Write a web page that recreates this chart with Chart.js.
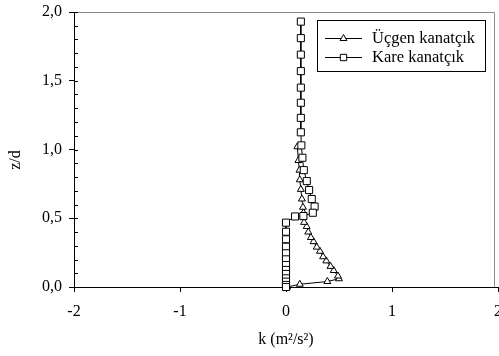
<!DOCTYPE html>
<html>
<head>
<meta charset="utf-8">
<script src="https://cdn.jsdelivr.net/npm/chart.js@4"></script>
<style>
  html, body { margin: 0; padding: 0; background: #fff; }
</style>
</head>
<body>
<canvas id="kChart" width="499" height="356"></canvas>
<script>
// turbulent kinetic energy profiles, z/d against k
const seriesNames = ["Üçgen kanatçık", "Kare kanatçık"];

const ucgenK = [0.01, 0.13, 0.39, 0.50, 0.49, 0.45, 0.42, 0.38, 0.35, 0.32, 0.29, 0.26, 0.235,
                0.21, 0.195, 0.17, 0.165, 0.165, 0.16, 0.15, 0.14, 0.13, 0.127, 0.117, 0.107];
const ucgenZ = [0.00, 0.02, 0.04, 0.06, 0.08, 0.12, 0.15, 0.19, 0.22, 0.26, 0.29, 0.33, 0.36,
                0.40, 0.44, 0.47, 0.51, 0.54, 0.58, 0.64, 0.71, 0.78, 0.85, 0.92, 1.02];

const kareK = [0.14, 0.14, 0.14, 0.14, 0.14, 0.14, 0.14, 0.14, 0.145, 0.155, 0.168, 0.196, 0.218,
               0.243, 0.27, 0.253, 0.164, 0.085, 0.0, 0.0, 0.0, 0.0, 0.0, 0.0, 0.0, 0.0, 0.0,
               0.0, 0.0, 0.0, 0.0];
const kareZ = [1.93, 1.81, 1.69, 1.57, 1.45, 1.34, 1.23, 1.125, 1.03, 0.94, 0.85, 0.77, 0.705,
               0.64, 0.585, 0.54, 0.516, 0.513, 0.468, 0.402, 0.347, 0.293, 0.245, 0.201, 0.16,
               0.124, 0.095, 0.063, 0.039, 0.015, 0.0];

const xTicks = [-2, -1, 0, 1, 2];
const yTicks = [0, 0.5, 1, 1.5, 2];
const yMinorStep = 0.1;

const serif = "'Liberation Serif', 'Times New Roman', serif";

function toPoints(xs, ys) {
    return xs.map(function (x, i) { return { x: x, y: ys[i] }; });
}

// frame, minor ticks, y title and the boxed legend
const extras = {
    id: "extras",
    afterDraw: function (chart) {
        const ctx = chart.ctx;
        const area = chart.chartArea;
        const ys = chart.scales.y;

        ctx.save();
        ctx.strokeStyle = "#8c8c8c";
        ctx.lineWidth = 1;
        ctx.beginPath();
        ctx.moveTo(area.left, 12.5);
        ctx.lineTo(494.5, 12.5);
        ctx.lineTo(494.5, area.bottom);
        ctx.stroke();

        ctx.strokeStyle = "#000";
        ctx.beginPath();
        for (let v = 0; v <= 2.0001; v += yMinorStep) {
            const py = Math.round(ys.getPixelForValue(v)) + 0.5;
            ctx.moveTo(area.left, py);
            ctx.lineTo(area.left + 4, py);
        }
        ctx.stroke();

        ctx.fillStyle = "#000";
        ctx.font = "16px " + serif;
        ctx.textAlign = "center";
        ctx.textBaseline = "middle";
        ctx.translate(16, 160);
        ctx.rotate(-Math.PI / 2);
        ctx.fillText("z/d", 0, 0);
        ctx.restore();

        ctx.save();
        ctx.strokeStyle = "#000";
        ctx.lineWidth = 1;
        ctx.fillStyle = "#fff";
        ctx.fillRect(317.5, 20.5, 168, 51);
        ctx.strokeRect(317.5, 20.5, 168, 51);
        const rows = [38, 57];
        const styles = ["triangle", "rect"];
        const radii = [4, 4.5];
        rows.forEach(function (ry, i) {
            ctx.beginPath();
            ctx.moveTo(325, ry + 0.5);
            ctx.lineTo(362, ry + 0.5);
            ctx.stroke();
            ctx.fillStyle = "#fff";
            Chart.helpers.drawPoint(ctx, { pointStyle: styles[i], radius: radii[i], borderWidth: 1, rotation: 0 }, 343.5, ry + 0.5);
            ctx.fillStyle = "#000";
            ctx.font = "16.5px " + serif;
            ctx.textAlign = "left";
            ctx.textBaseline = "middle";
            ctx.fillText(seriesNames[i], 372, ry + 1);
        });
        ctx.restore();
    }
};

new Chart("kChart", {
    type: "scatter",
    data: {
        datasets: [{
            label: seriesNames[0],
            data: toPoints(ucgenK, ucgenZ),
            showLine: true,
            borderColor: "#000",
            borderWidth: 1,
            pointStyle: "triangle",
            pointRadius: 4,
            pointBackgroundColor: "#fff",
            pointBorderColor: "#000",
            pointBorderWidth: 1,
            clip: false,
            order: 2
        }, {
            label: seriesNames[1],
            data: toPoints(kareK, kareZ),
            showLine: true,
            borderColor: "#000",
            borderWidth: 1,
            pointStyle: "rect",
            pointRadius: 5,
            pointBackgroundColor: "#fff",
            pointBorderColor: "#000",
            pointBorderWidth: 1,
            clip: false,
            order: 1
        }]
    },
    options: {
        responsive: false,
        animation: false,
        devicePixelRatio: 1,
        layout: { autoPadding: false, padding: { top: 12, right: 1, left: 0, bottom: 0 } },
        plugins: {
            legend: { display: false },
            tooltip: { enabled: false }
        },
        scales: {
            x: {
                type: "linear",
                min: -2,
                max: 2,
                afterBuildTicks: function (scale) {
                    scale.ticks = xTicks.map(function (v) { return { value: v }; });
                },
                ticks: {
                    color: "#000",
                    font: { family: serif, size: 16 },
                    padding: 10,
                    maxRotation: 0
                },
                grid: { drawOnChartArea: false, tickLength: 5, color: "#000" },
                border: { color: "#000", width: 1 },
                title: {
                    display: true,
                    text: "k (m²/s²)",
                    color: "#000",
                    font: { family: serif, size: 16 },
                    padding: { top: 7, bottom: 7 }
                },
                afterFit: function (scale) {
                    scale.height = 69;
                    scale.paddingLeft = 0;
                    scale.paddingRight = 0;
                }
            },
            y: {
                type: "linear",
                min: 0,
                max: 2,
                afterBuildTicks: function (scale) {
                    scale.ticks = yTicks.map(function (v) { return { value: v }; });
                },
                ticks: {
                    color: "#000",
                    font: { family: serif, size: 16 },
                    padding: 7,
                    callback: function (v) { return v.toFixed(1).replace(".", ","); }
                },
                grid: { drawOnChartArea: false, tickLength: 5, color: "#000" },
                border: { color: "#000", width: 1 },
                afterFit: function (scale) {
                    scale.width = 74;
                    scale.paddingTop = 0;
                    scale.paddingBottom = 0;
                }
            }
        }
    },
    plugins: [extras]
});
</script>
</body>
</html>
